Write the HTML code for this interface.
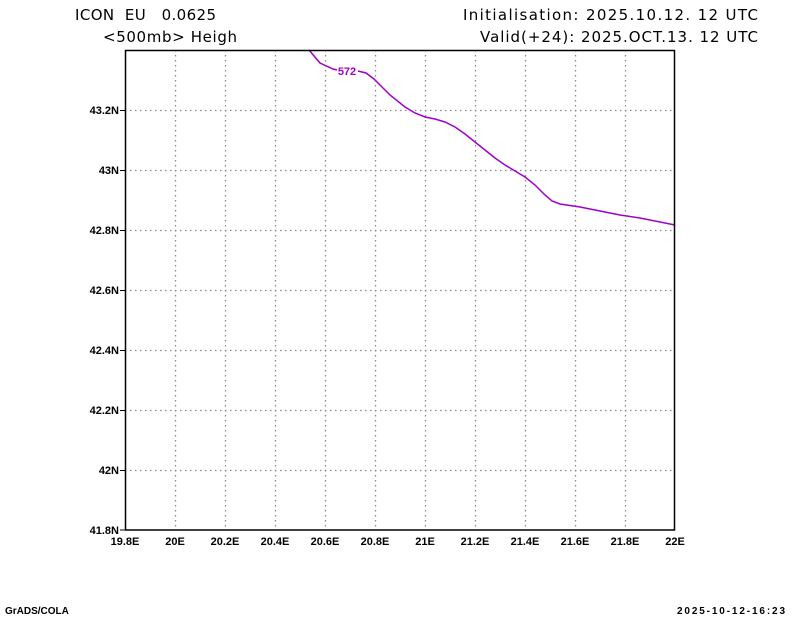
<!DOCTYPE html>
<html><head><meta charset="utf-8"><style>
body{margin:0;background:#fff;width:800px;height:618px;overflow:hidden}
svg{display:block}
.t{font-family:"DejaVu Sans","Liberation Sans",sans-serif;font-size:15px;fill:#000;white-space:pre}
.a{font-family:"Liberation Sans",sans-serif;font-size:11px;font-weight:bold;fill:#000}
</style></head><body>
<svg width="800" height="618" viewBox="0 0 800 618">
<rect width="800" height="618" fill="#fff"/>
<text class="t" x="75" y="20" textLength="141" lengthAdjust="spacing" xml:space="preserve">ICON  EU   0.0625</text>
<text class="t" x="103" y="42" textLength="134" lengthAdjust="spacing">&lt;500mb&gt; Heigh</text>
<text class="t" x="463" y="20" textLength="295" lengthAdjust="spacing">Initialisation: 2025.10.12. 12 UTC</text>
<text class="t" x="480" y="42" textLength="278" lengthAdjust="spacing">Valid(+24): 2025.OCT.13. 12 UTC</text>
<g stroke="#888" stroke-width="1.3" stroke-dasharray="1.5,3.5">
<line x1="175.5" y1="50" x2="175.5" y2="530"/><line x1="225.5" y1="50" x2="225.5" y2="530"/>
<line x1="275.5" y1="50" x2="275.5" y2="530"/><line x1="325.5" y1="50" x2="325.5" y2="530"/>
<line x1="375.5" y1="50" x2="375.5" y2="530"/><line x1="425.5" y1="50" x2="425.5" y2="530"/>
<line x1="475.5" y1="50" x2="475.5" y2="530"/><line x1="525.5" y1="50" x2="525.5" y2="530"/>
<line x1="575.5" y1="50" x2="575.5" y2="530"/><line x1="625.5" y1="50" x2="625.5" y2="530"/>
<line x1="125" y1="110.5" x2="675" y2="110.5"/><line x1="125" y1="170.5" x2="675" y2="170.5"/>
<line x1="125" y1="230.5" x2="675" y2="230.5"/><line x1="125" y1="290.5" x2="675" y2="290.5"/>
<line x1="125" y1="350.5" x2="675" y2="350.5"/><line x1="125" y1="410.5" x2="675" y2="410.5"/>
<line x1="125" y1="470.5" x2="675" y2="470.5"/>
</g>
<polyline fill="none" stroke="#a000c8" stroke-width="1.5" points="309,50 320,63 333,69 337,70"/>
<polyline fill="none" stroke="#a000c8" stroke-width="1.5" points="358,71 366,73 374,79 390,95 405,107 415,113 425,117 435,119 445,122 455,127 465,134 475,142 485,150 495,158 505,165 515,171 525,177 535,185 545,195 552,201 560,204 580,207 600,211 620,215 640,218 660,222 675,225"/>
<text x="347" y="75" text-anchor="middle" font-family="Liberation Sans,sans-serif" font-size="11" font-weight="bold" fill="#a000c8">572</text>
<rect x="125.5" y="50.5" width="549" height="479.5" fill="none" stroke="#000" stroke-width="1.5"/>
<g stroke="#000" stroke-width="1">
<line x1="120" y1="110.5" x2="125" y2="110.5"/><line x1="120" y1="170.5" x2="125" y2="170.5"/>
<line x1="120" y1="230.5" x2="125" y2="230.5"/><line x1="120" y1="290.5" x2="125" y2="290.5"/>
<line x1="120" y1="350.5" x2="125" y2="350.5"/><line x1="120" y1="410.5" x2="125" y2="410.5"/>
<line x1="120" y1="470.5" x2="125" y2="470.5"/><line x1="120" y1="530" x2="125" y2="530"/>
</g>
<g class="a" text-anchor="end">
<text x="119" y="114">43.2N</text><text x="119" y="174">43N</text><text x="119" y="234">42.8N</text>
<text x="119" y="294">42.6N</text><text x="119" y="354">42.4N</text><text x="119" y="414">42.2N</text>
<text x="119" y="474">42N</text><text x="119" y="534">41.8N</text>
</g>
<g class="a" text-anchor="middle">
<text x="125" y="545">19.8E</text><text x="175" y="545">20E</text><text x="225" y="545">20.2E</text>
<text x="275" y="545">20.4E</text><text x="325" y="545">20.6E</text><text x="375" y="545">20.8E</text>
<text x="425" y="545">21E</text><text x="475" y="545">21.2E</text><text x="525" y="545">21.4E</text>
<text x="575" y="545">21.6E</text><text x="625" y="545">21.8E</text><text x="675" y="545">22E</text>
</g>
<text class="a" x="5" y="614" style="font-size:10px">GrADS/COLA</text>
<text class="a" x="677" y="614" textLength="108" lengthAdjust="spacing" style="font-size:10px">2025-10-12-16:23</text>
</svg>
</body></html>
